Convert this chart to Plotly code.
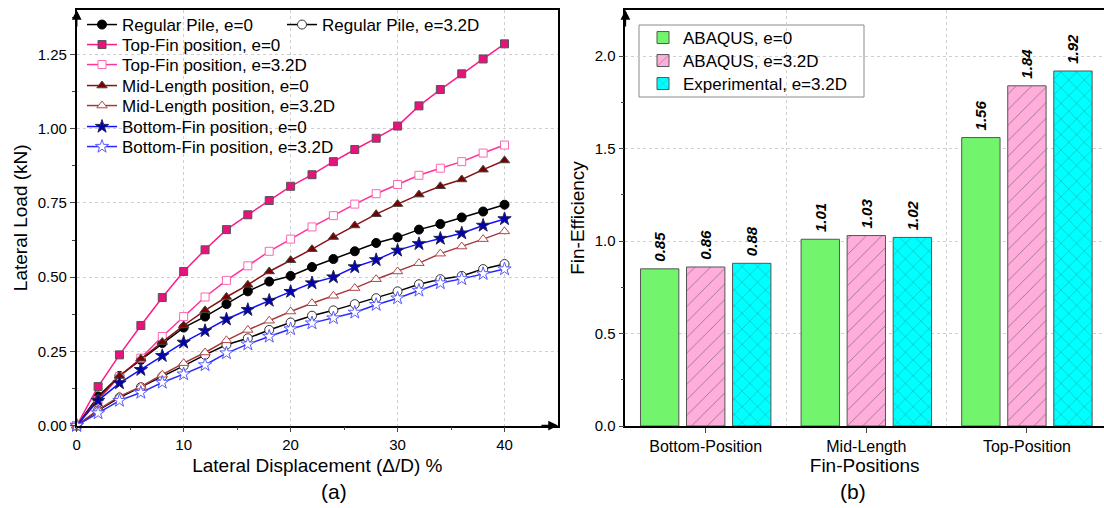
import plotly.graph_objects as go

# ---------------- data (left panel) ----------------
disp = [0, 2, 4, 6, 8, 10, 12, 14, 16, 18, 20, 22, 24, 26, 28, 30, 32, 34, 36, 38, 40]

regular_e0 = [0, 0.098, 0.167, 0.221, 0.278, 0.330, 0.367, 0.409, 0.452, 0.485, 0.504,
              0.534, 0.561, 0.587, 0.615, 0.634, 0.660, 0.679, 0.701, 0.721, 0.744]
regular_e32 = [0, 0.051, 0.094, 0.129, 0.165, 0.201, 0.238, 0.272, 0.294, 0.322, 0.347,
               0.370, 0.388, 0.409, 0.429, 0.452, 0.476, 0.493, 0.504, 0.527, 0.544]
top_e0 = [0, 0.131, 0.238, 0.337, 0.431, 0.519, 0.592, 0.660, 0.710, 0.758, 0.806,
          0.845, 0.889, 0.930, 0.968, 1.009, 1.077, 1.132, 1.185, 1.235, 1.286]
top_e32 = [0, 0.085, 0.165, 0.227, 0.300, 0.367, 0.433, 0.489, 0.538, 0.587, 0.628,
           0.669, 0.707, 0.746, 0.781, 0.812, 0.843, 0.867, 0.889, 0.918, 0.945]
mid_e0 = [0, 0.092, 0.167, 0.225, 0.281, 0.337, 0.388, 0.433, 0.474, 0.519, 0.557,
          0.594, 0.635, 0.674, 0.712, 0.746, 0.778, 0.806, 0.829, 0.862, 0.893]
mid_e32 = [0, 0.053, 0.098, 0.131, 0.171, 0.210, 0.246, 0.287, 0.322, 0.353, 0.384,
           0.412, 0.437, 0.463, 0.493, 0.519, 0.547, 0.579, 0.603, 0.628, 0.654]
bottom_e0 = [0, 0.084, 0.143, 0.188, 0.235, 0.280, 0.319, 0.358, 0.390, 0.421, 0.451,
             0.480, 0.500, 0.534, 0.558, 0.590, 0.612, 0.630, 0.648, 0.674, 0.696]
bottom_e32 = [0, 0.042, 0.084, 0.111, 0.145, 0.173, 0.204, 0.244, 0.274, 0.300, 0.325,
              0.345, 0.362, 0.381, 0.407, 0.429, 0.455, 0.480, 0.494, 0.511, 0.527]

# ---------------- data (right panel) ----------------
positions = ["Bottom-Position", "Mid-Length", "Top-Position"]
abaqus_e0 = [0.85, 1.01, 1.56]
abaqus_e32 = [0.86, 1.03, 1.84]
experimental_e32 = [0.88, 1.02, 1.92]

FONT = "Liberation Sans, Arial, sans-serif"
W, H = 1104, 508

fig = go.Figure()

# legend placement (pixels: left x, centre y) for each entry
left_legend_pos = [(82, 25), (282, 25), (82, 45), (82, 65), (82, 86), (82, 106), (82, 127), (82, 147)]
right_legend_pos = [(643, 38), (643, 61), (643, 84)]

legend_layout = {}

def legend_id(i):
    return "legend" if i == 1 else f"legend{i}"

series = [
    (regular_e0, "Regular Pile, e=0", "#000000", "circle", 9, "#000000", "#000000"),
    (regular_e32, "Regular Pile, e=3.2D", "#000000", "circle", 9, "#FFFFFF", "#333333"),
    (top_e0, "Top-Fin position, e=0", "#FF1A8C", "square", 8, "#E8127C", "#555555"),
    (top_e32, "Top-Fin position, e=3.2D", "#FF3399", "square", 8, "#FFFFFF", "#FF66B2"),
    (mid_e0, "Mid-Length position, e=0", "#8B1010", "triangle-up", 9, "#7A0000", "#444444"),
    (mid_e32, "Mid-Length position, e=3.2D", "#A83838", "triangle-up", 9, "#FFFFFF", "#B04848"),
    (bottom_e0, "Bottom-Fin position, e=0", "#1010FF", "star", 10, "#0000B0", "#222255"),
    (bottom_e32, "Bottom-Fin position, e=3.2D", "#2828FF", "star", 10, "#FFFFFF", "#5A5AFF"),
]

n = 0
for (y, name, lc, sym, size, fill, edge), (px, py) in zip(series, left_legend_pos):
    n += 1
    lid = legend_id(n)
    fig.add_trace(go.Scatter(
        x=disp, y=y, name=name, mode="lines+markers",
        line=dict(color=lc, width=1.5),
        marker=dict(symbol=sym, size=size, color=fill, line=dict(color=edge, width=1)),
        xaxis="x", yaxis="y", legend=lid, cliponaxis=False))
    legend_layout[lid] = dict(x=px / W, y=1 - py / H, xanchor="left", yanchor="middle",
                              bgcolor="rgba(0,0,0,0)", borderwidth=0,
                              font=dict(family=FONT, size=17, color="#000000"))

# ---------------- bars ----------------
cat_x = list(range(len(positions)))
bar_specs = [
    ("ABAQUS, e=0", abaqus_e0, "#72F56C", ""),
    ("ABAQUS, e=3.2D", abaqus_e32, "#FFAEDC", "/"),
    ("Experimental, e=3.2D", experimental_e32, "#00FFFF", "x"),
]
for (name, vals, col, pat), (px, py) in zip(bar_specs, right_legend_pos):
    n += 1
    lid = legend_id(n)
    fig.add_trace(go.Bar(
        x=cat_x, y=vals, name=name, xaxis="x2", yaxis="y2", legend=lid,
        marker=dict(color=col, line=dict(color="#555555", width=1),
                    pattern=dict(shape=pat, fgcolor="#333333", size=11, solidity=0.08)),
        texttemplate="\u00a0%{y:.2f}", textposition="outside", textangle=-90,
        textfont=dict(family=FONT, size=15, color="#000000", weight="bold", style="italic"),
        cliponaxis=False))
    legend_layout[lid] = dict(x=px / W, y=1 - py / H, xanchor="left", yanchor="middle",
                              bgcolor="rgba(0,0,0,0)", borderwidth=0,
                              font=dict(family=FONT, size=17, color="#000000"))

grid = dict(showgrid=True, gridcolor="#CFCFCF", gridwidth=1, griddash="3px,3px")
axfont = dict(family=FONT, size=15, color="#000000")
tfont = dict(family=FONT, size=19, color="#000000")

left_dom_x = [76.7 / W, 558 / W]
left_dom_y = [1 - 425.5 / H, 1 - 10 / H]
right_dom_x = [625.4 / W, 1.0]
right_dom_y = [1 - 426 / H, 1 - 10 / H]

fig.update_layout(
    width=W, height=H, margin=dict(l=0, r=0, t=0, b=0),
    paper_bgcolor="white", plot_bgcolor="white",
    font=dict(family=FONT, color="#000000"),
    barmode="group", bargap=0.14, bargroupgap=0.167,
    showlegend=True,
    xaxis=dict(domain=left_dom_x, range=[0, 45], anchor="y",
               tickvals=[0, 10, 20, 30, 40], ticks="outside", ticklen=5, tickwidth=1.2,
               minor=dict(tickvals=[5, 15, 25, 35], ticks="outside", ticklen=3, showgrid=False),
               showline=True, linecolor="#000000", linewidth=1.5, mirror=True,
               tickfont=axfont, automargin=False, zeroline=False,
               title=dict(text="Lateral Displacement (Δ/D) %", font=tfont, standoff=6), **grid),
    yaxis=dict(domain=left_dom_y, range=[0, 1.4], anchor="x",
               tickvals=[0, 0.25, 0.5, 0.75, 1.0, 1.25], tickformat=".2f",
               ticks="outside", ticklen=5, tickwidth=1.2,
               minor=dict(tickvals=[0.125, 0.375, 0.625, 0.875, 1.125, 1.375], ticks="outside",
                          ticklen=3, showgrid=False),
               showline=True, linecolor="#000000", linewidth=1.5, mirror=True,
               tickfont=axfont, automargin=False, zeroline=False,
               title=dict(text="Lateral Load (kN)", font=tfont, standoff=5), **grid),
    xaxis2=dict(domain=right_dom_x, range=[-0.5, 2.48], anchor="y2",
                tickvals=cat_x, ticktext=positions, ticks="outside", ticklen=5, tickwidth=1.2,
                showgrid=False,
                minor=dict(tickvals=[0.5, 1.5], ticklen=0, showgrid=True, gridcolor="#CFCFCF",
                           griddash="3px,3px"),
                showline=True, linecolor="#000000", linewidth=1.5, mirror=True,
                tickfont=dict(family=FONT, size=16, color="#000000"),
                automargin=False, zeroline=False,
                title=dict(text="Fin-Positions", font=tfont, standoff=4)),
    yaxis2=dict(domain=right_dom_y, range=[0, 2.25], anchor="x2",
                tickvals=[0, 0.5, 1.0, 1.5, 2.0], tickformat=".1f",
                ticks="outside", ticklen=5, tickwidth=1.2,
                minor=dict(tickvals=[0.25, 0.75, 1.25, 1.75], ticks="outside", ticklen=3,
                           showgrid=False),
                showline=True, linecolor="#000000", linewidth=1.5, mirror=True,
                tickfont=axfont, automargin=False, zeroline=False,
                title=dict(text="Fin-Efficiency", font=tfont, standoff=5), **grid),
    **legend_layout,
)

# frame around the bar-chart legend
fig.add_shape(type="rect", xref="paper", yref="paper",
              x0=639 / W, x1=864 / W, y0=1 - 97 / H, y1=1 - 25 / H,
              line=dict(color="#8A8A8A", width=1), fillcolor="white", layer="below")

arrow = dict(text="", showarrow=True, arrowhead=2, arrowsize=1.3, arrowwidth=1.5,
             arrowcolor="#000000", axref="pixel", ayref="pixel")
fig.add_annotation(x=0, y=1.4, xref="x", yref="y", ax=0, ay=18, **arrow)
fig.add_annotation(x=45, y=0, xref="x", yref="y", ax=-18, ay=0, **arrow)
fig.add_annotation(x=-0.5, y=2.25, xref="x2", yref="y2", ax=0, ay=18, **arrow)

fig.add_annotation(x=319 / W, y=1 - 491 / H, xref="paper", yref="paper", text="(a)",
                   showarrow=False, yanchor="middle",
                   font=dict(family=FONT, size=21, color="#000000"))
fig.add_annotation(x=868 / W, y=1 - 491 / H, xref="paper", yref="paper", text="(b)",
                   showarrow=False, yanchor="middle",
                   font=dict(family=FONT, size=21, color="#000000"))

fig.write_html("out.html")
